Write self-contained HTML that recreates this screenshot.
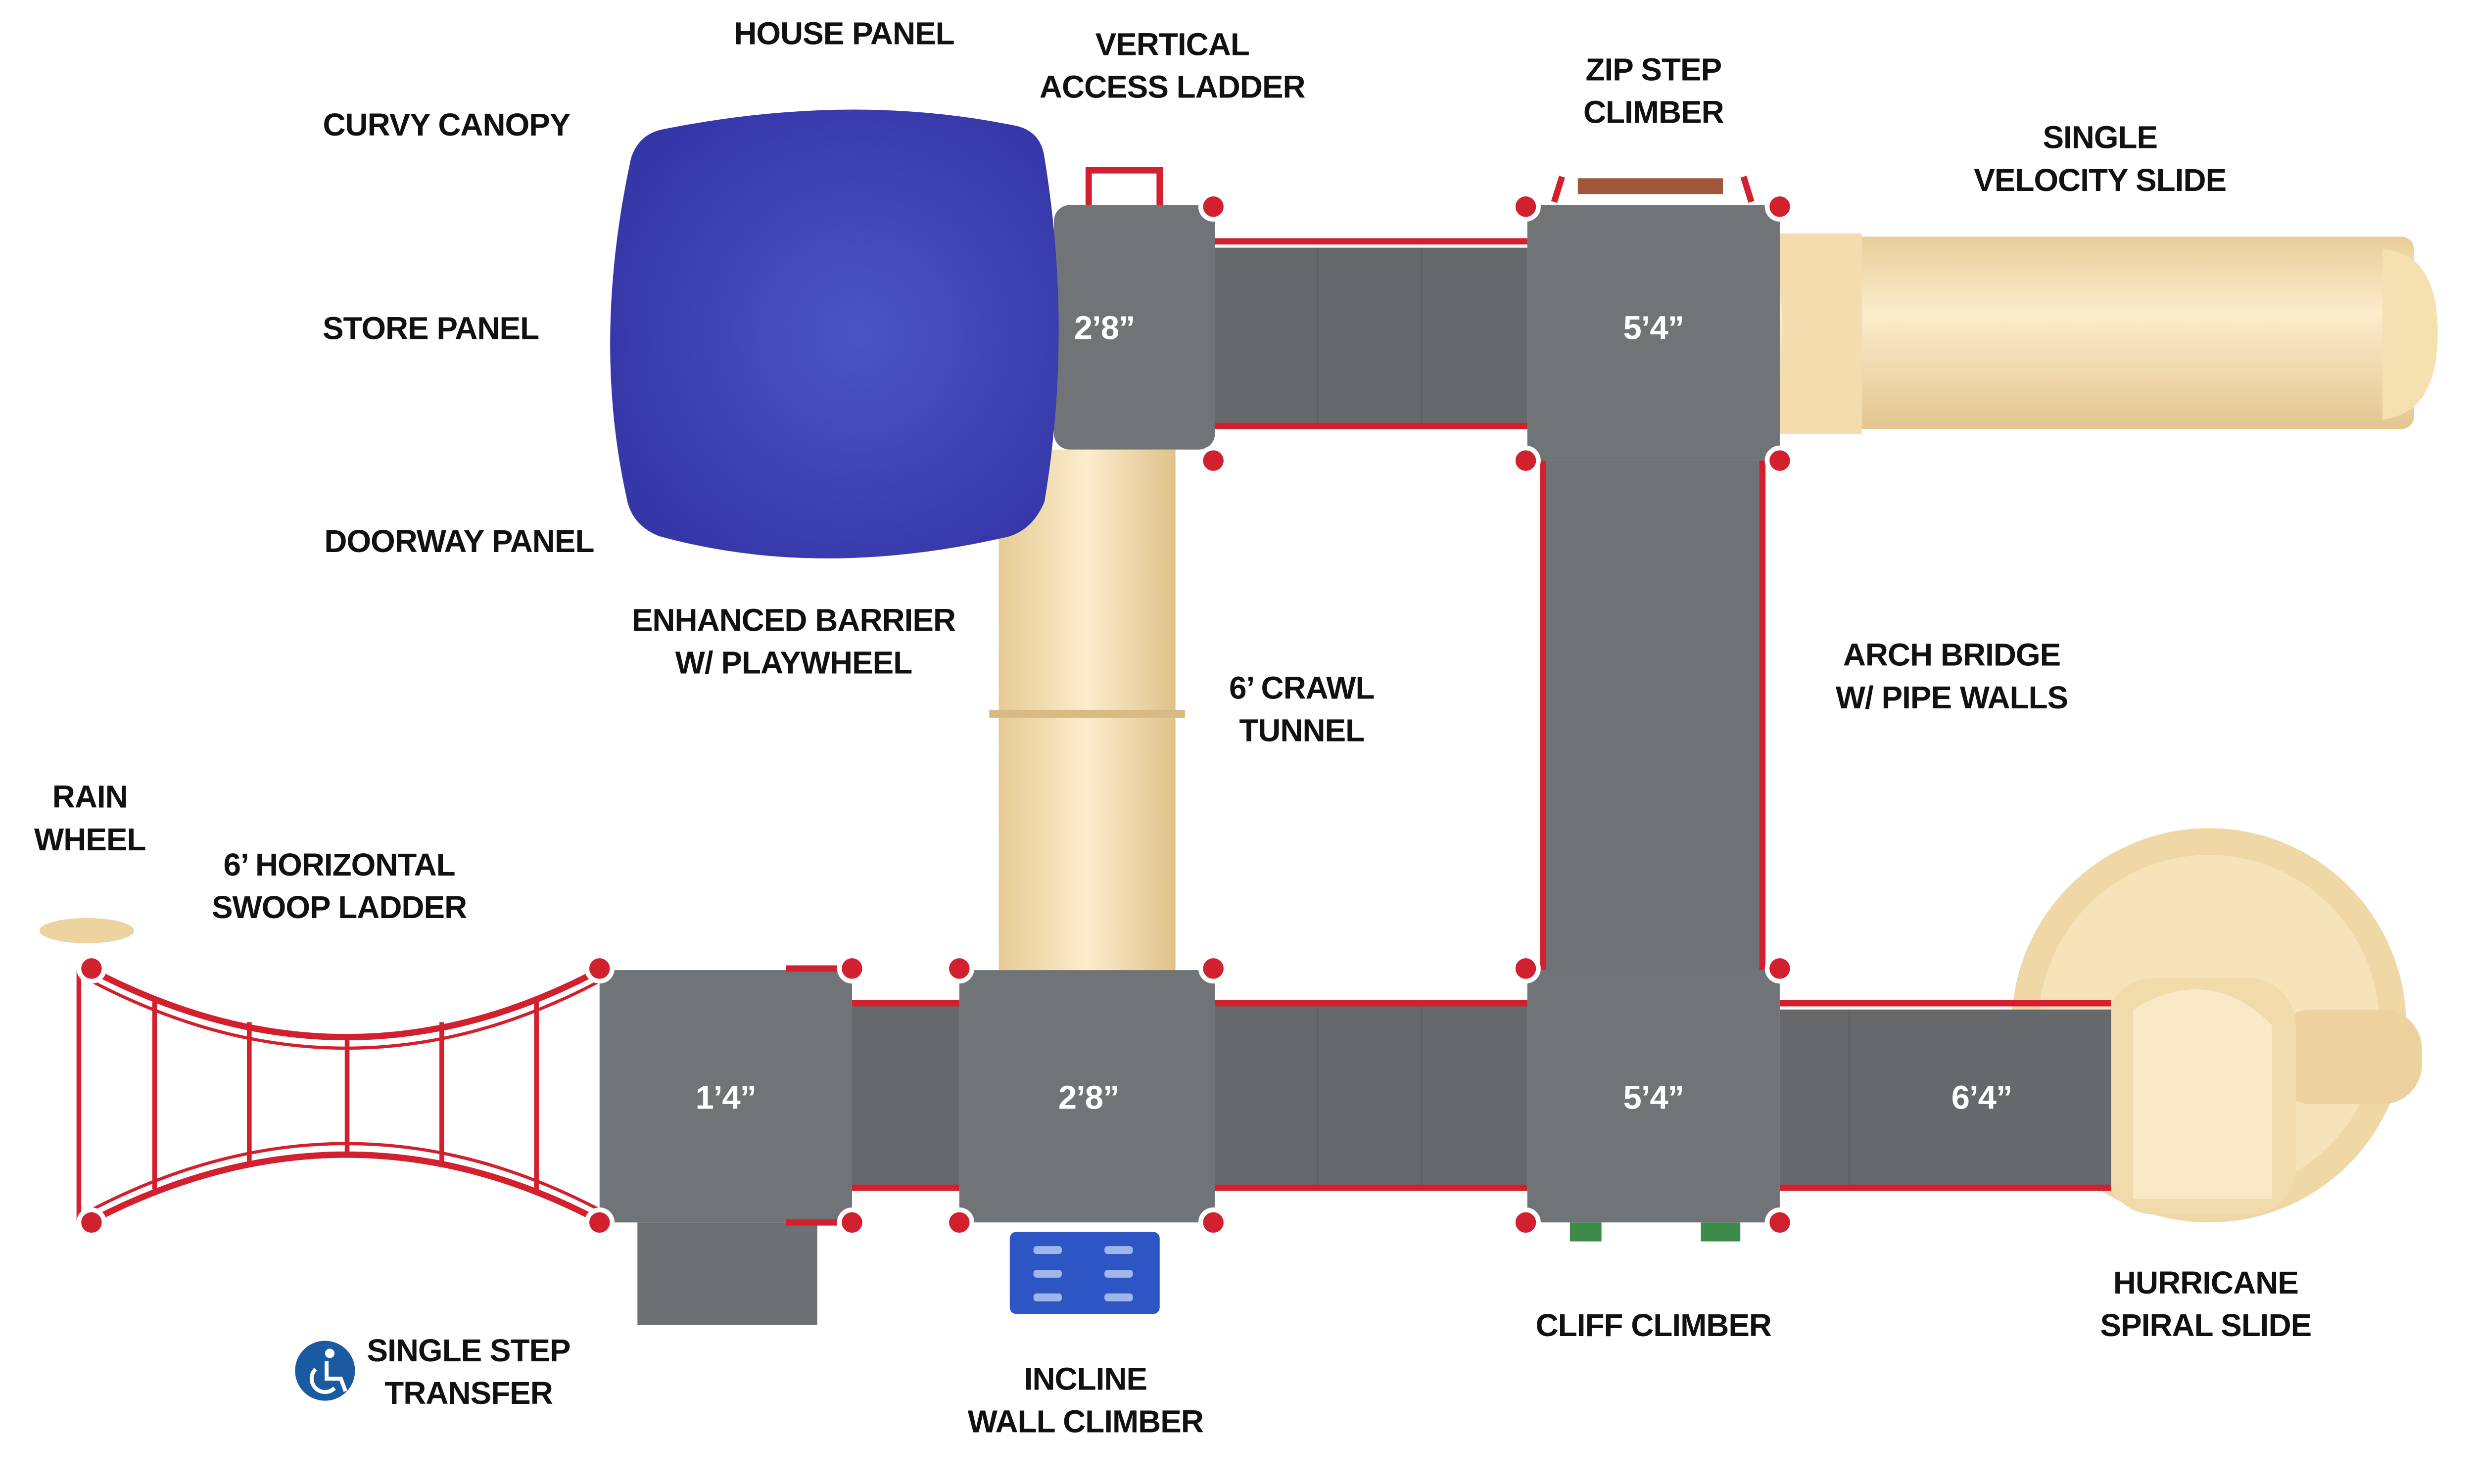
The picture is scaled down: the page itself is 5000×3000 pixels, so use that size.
<!DOCTYPE html>
<html><head><meta charset="utf-8"><style>
html,body{margin:0;padding:0;background:#fff;width:5000px;height:3000px;overflow:hidden}
svg{display:block}
text{font-family:"Liberation Sans",sans-serif;font-weight:bold;font-size:20px;fill:#111;text-anchor:middle;letter-spacing:-0.3px}
.d{fill:#fff;font-size:21px}
</style></head><body>
<svg width="5000" height="3000" viewBox="0 0 1568 940.8" preserveAspectRatio="none" xmlns="http://www.w3.org/2000/svg">
<defs>
<linearGradient id="cv" x1="0" y1="0" x2="0" y2="1"><stop offset="0" stop-color="#e8cf9a"/><stop offset=".4" stop-color="#fbeccb"/><stop offset="1" stop-color="#e3c690"/></linearGradient>
<linearGradient id="ch" x1="0" y1="0" x2="1" y2="0"><stop offset="0" stop-color="#e6cb94"/><stop offset=".5" stop-color="#fcedcc"/><stop offset="1" stop-color="#e0c28a"/></linearGradient>
<radialGradient id="bl" cx=".55" cy=".5" r=".6"><stop offset="0" stop-color="#4b55c4"/><stop offset="1" stop-color="#3536a8"/></radialGradient>
</defs>
<rect x="633" y="285" width="112" height="332" fill="url(#ch)"/>
<rect x="627" y="450" width="124" height="5" fill="#d8bb84"/>
<rect x="1125" y="150" width="405" height="122" rx="8" fill="url(#cv)"/>
<path d="M1510 158 Q1545 160 1545 211 Q1545 262 1510 266 Z" fill="#f5e0b0"/>
<path d="M1120 148 L1180 148 L1180 275 L1120 275 Q1140 211 1120 148Z" fill="#f3dcad"/>
<circle cx="1400" cy="650" r="125" fill="#f0d8a6"/>
<circle cx="1400" cy="650" r="108" fill="#f6e3ba"/>
<rect x="1440" y="640" width="95" height="60" rx="25" fill="#edd29f"/>
<rect x="1335" y="620" width="120" height="150" rx="30" fill="#f2dbab"/>
<path d="M1352 640 Q1400 610 1440 650 L1440 760 L1352 760Z" fill="#fae9c6"/>
<g fill="#707477">
<rect x="668" y="130" width="102" height="155" rx="10"/>
<rect x="968" y="130" width="160" height="162" rx="10"/>
<rect x="980" y="292" width="135" height="325" fill="#6f7376"/>
<rect x="968" y="615" width="160" height="160" rx="10"/>
<rect x="608" y="615" width="162" height="160" rx="10"/>
<rect x="380" y="615" width="160" height="160"/>
<rect x="404" y="775" width="114" height="65" fill="#6d7173"/>
</g>
<g fill="#66696c">
<rect x="770" y="157" width="198" height="113"/>
<rect x="770" y="638" width="198" height="114"/>
<rect x="540" y="638" width="68" height="114"/>
<rect x="1128" y="640" width="210" height="112"/>
</g>
<g stroke="#5c5f62" stroke-width="1"><line x1="835" y1="157" x2="835" y2="270"/><line x1="901" y1="157" x2="901" y2="270"/><line x1="835" y1="638" x2="835" y2="752"/><line x1="901" y1="638" x2="901" y2="752"/><line x1="1172" y1="640" x2="1172" y2="752"/></g>
<g stroke="#d3202e" stroke-width="4" fill="none">
<line x1="770" y1="153" x2="968" y2="153"/><line x1="770" y1="270" x2="968" y2="270"/>
<line x1="770" y1="636" x2="968" y2="636"/><line x1="770" y1="753" x2="968" y2="753"/>
<line x1="540" y1="636" x2="608" y2="636"/><line x1="540" y1="753" x2="608" y2="753"/>
<line x1="1128" y1="636" x2="1338" y2="636"/><line x1="1128" y1="753" x2="1338" y2="753"/>
<line x1="978" y1="292" x2="978" y2="615"/><line x1="1117" y1="292" x2="1117" y2="615"/>
<line x1="498" y1="614" x2="540" y2="614"/><line x1="498" y1="775" x2="540" y2="775"/>
<path d="M58 615 Q220 700 380 615"/><path d="M58 774 Q220 690 380 774"/>
<path d="M58 622 Q220 707 380 622" stroke-width="2"/><path d="M58 767 Q220 683 380 767" stroke-width="2"/>
<line x1="50" y1="615" x2="50" y2="774" stroke-width="3"/>
<line x1="98" y1="634" x2="98" y2="754" stroke-width="3"/><line x1="158" y1="648" x2="158" y2="740" stroke-width="3"/>
<line x1="220" y1="656" x2="220" y2="732" stroke-width="3"/><line x1="280" y1="648" x2="280" y2="740" stroke-width="3"/>
<line x1="340" y1="634" x2="340" y2="754" stroke-width="3"/>
<path d="M690 130 L690 108 L735 108 L735 130"/>
<path d="M985 128 L990 112 M1105 112 L1110 128"/>
</g>
<rect x="1000" y="113" width="92" height="10" fill="#a0563a"/>
<g fill="#d3202e" stroke="#fff" stroke-width="3">
<circle cx="769" cy="131" r="8"/><circle cx="769" cy="292" r="8"/><circle cx="967" cy="131" r="8"/><circle cx="1128" cy="131" r="8"/>
<circle cx="967" cy="292" r="8"/><circle cx="1128" cy="292" r="8"/>
<circle cx="540" cy="614" r="8"/><circle cx="608" cy="614" r="8"/><circle cx="769" cy="614" r="8"/><circle cx="967" cy="614" r="8"/><circle cx="1128" cy="614" r="8"/>
<circle cx="540" cy="775" r="8"/><circle cx="608" cy="775" r="8"/><circle cx="769" cy="775" r="8"/><circle cx="967" cy="775" r="8"/><circle cx="1128" cy="775" r="8"/>
<circle cx="380" cy="614" r="8"/><circle cx="380" cy="775" r="8"/><circle cx="58" cy="614" r="8"/><circle cx="58" cy="775" r="8"/>
</g>
<ellipse cx="55" cy="590" rx="30" ry="8" fill="#ecd3a0"/>
<rect x="640" y="781" width="95" height="52" rx="4" fill="#2d56c4"/>
<g fill="#9fb6ea"><rect x="655" y="790" width="18" height="5" rx="2"/><rect x="700" y="790" width="18" height="5" rx="2"/><rect x="655" y="805" width="18" height="5" rx="2"/><rect x="700" y="805" width="18" height="5" rx="2"/><rect x="655" y="820" width="18" height="5" rx="2"/><rect x="700" y="820" width="18" height="5" rx="2"/></g>
<rect x="995" y="775" width="20" height="12" fill="#3d8a4a"/><rect x="1078" y="775" width="25" height="12" fill="#3d8a4a"/>
<path d="M420 82 Q540 58 645 80 Q660 84 662 100 Q680 210 662 318 Q655 335 640 340 Q520 368 418 340 Q400 333 397 315 Q375 215 400 100 Q405 85 420 82Z" fill="url(#bl)"/>
<text class="d" x="700" y="215">2’8”</text>
<text class="d" x="1048" y="215">5’4”</text>
<text class="d" x="1048" y="703">5’4”</text>
<text class="d" x="690" y="703">2’8”</text>
<text class="d" x="460" y="703">1’4”</text>
<text class="d" x="1256" y="703">6’4”</text>
<text x="535" y="28">HOUSE PANEL</text>
<text x="743" y="35">VERTICAL</text><text x="743" y="62">ACCESS LADDER</text>
<text x="1048" y="51">ZIP STEP</text><text x="1048" y="78">CLIMBER</text>
<text x="1331" y="94">SINGLE</text><text x="1331" y="121">VELOCITY SLIDE</text>
<text x="283" y="86">CURVY CANOPY</text>
<text x="273" y="215">STORE PANEL</text>
<text x="291" y="350">DOORWAY PANEL</text>
<text x="503" y="400">ENHANCED BARRIER</text><text x="503" y="427">W/ PLAYWHEEL</text>
<text x="825" y="443">6’ CRAWL</text><text x="825" y="470">TUNNEL</text>
<text x="1237" y="422">ARCH BRIDGE</text><text x="1237" y="449">W/ PIPE WALLS</text>
<text x="57" y="512">RAIN</text><text x="57" y="539">WHEEL</text>
<text x="215" y="555">6’ HORIZONTAL</text><text x="215" y="582">SWOOP LADDER</text>
<text x="1048" y="847">CLIFF CLIMBER</text>
<text x="1398" y="820">HURRICANE</text><text x="1398" y="847">SPIRAL SLIDE</text>
<text x="688" y="881">INCLINE</text><text x="688" y="908">WALL CLIMBER</text>
<text x="297" y="863">SINGLE STEP</text><text x="297" y="890">TRANSFER</text>
<circle cx="206" cy="869" r="19" fill="#1a5aa0"/>
<circle cx="209" cy="858" r="3" fill="#fff"/>
<path d="M207 863 L207 874 L216 874 L219 882 M200 868 A8 8 0 1 0 212 880" stroke="#fff" stroke-width="2.5" fill="none"/>
</svg>
</body></html>
